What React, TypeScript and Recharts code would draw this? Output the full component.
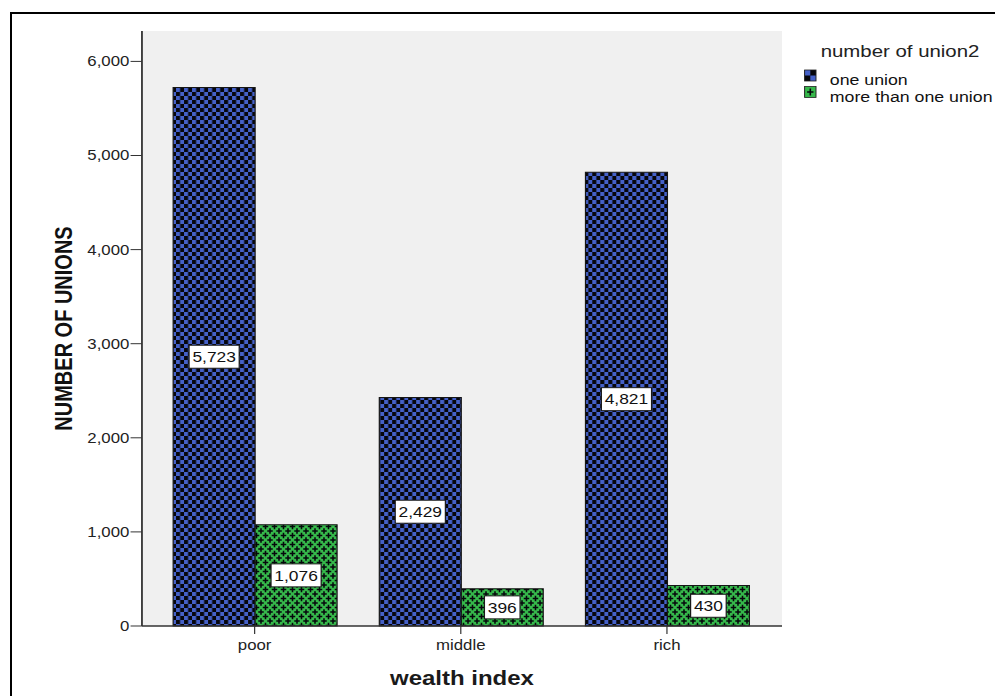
import React from 'react';
import { BarChart, Bar, XAxis, YAxis, CartesianGrid, LabelList } from 'recharts';

const wealthGroups = ['poor', 'middle', 'rich'];
const oneUnion = [5723, 2429, 4821];
const moreThanOneUnion = [1076, 396, 430];
const yTicks = [0, 1000, 2000, 3000, 4000, 5000, 6000];
const seriesNames = ['one union', 'more than one union'];

const chartData = wealthGroups.map((group, i) => ({
    group,
    one: oneUnion[i],
    more: moreThanOneUnion[i]
}));

// everything is drawn wide (text, patterns), so the chart is laid out narrow and widened along x
const STRETCH = 1.2;
const CHART_W = 995 / STRETCH;
const CHART_H = 696;
const FONT = '"Liberation Sans", Arial, sans-serif';

const BLUE = '#4561c8';
const GREEN = '#36b84b';
const INK = '#06060c';

const fmt = (v: number) => Number(v).toLocaleString('en-US');

// white value box in the middle of each bar
const ValueBox = (props: any) => {
    const box = props.viewBox && props.viewBox.width !== undefined ? props.viewBox : props;
    const { x, y, width, height } = box;
    const text = fmt(props.value);
    const fs = 14.5;
    const w = text.split('').reduce((s: number, c: string) => s + (c === ',' ? 0.278 : 0.556) * fs, 0) + 5.5;
    const cx = x + width / 2;
    const cy = y + height / 2;
    return (
        <g>
            <rect x={cx - w / 2} y={cy - 11.5} width={w} height={23} fill="#ffffff" stroke="#1a1a1a" strokeWidth={1} />
            <text x={cx} y={cy} dy="0.36em" textAnchor="middle" fontSize={fs} fontFamily={FONT} fill="#111">{text}</text>
        </g>
    );
};

const plus = (cx: number, cy: number) =>
    `M${cx - 2.3},${cy - 0.8}h4.6v1.6h-4.6z M${cx - 0.65},${cy - 2.8}h1.3v5.6h-1.3z`;

const Legendbox: React.FC = () => (
    <svg width={170} height={80} style={{ position: 'absolute', left: 660, top: 30, overflow: 'visible' }}>
        <text x={23.9} y={26.7} fontSize={17} fontFamily={FONT} fill="#222">number of union2</text>
        <g>
            <rect x={10.5} y={40} width={9.5} height={11} fill={INK} />
            <rect x={10.5} y={40} width={4.75} height={5.5} fill={BLUE} />
            <rect x={15.25} y={45.5} width={4.75} height={5.5} fill={BLUE} />
            <rect x={10.5} y={40} width={9.5} height={11} fill="none" stroke="#222" strokeWidth={0.8} />
            <text x={31.5} y={55} fontSize={14.8} fontFamily={FONT} fill="#111">{seriesNames[0]}</text>
        </g>
        <g>
            <rect x={10.5} y={56.5} width={9.5} height={11} fill={GREEN} stroke="#222" strokeWidth={0.8} />
            <path d="M12.6,61.3h5.3v1.4h-5.3z M14.6,58.5h1.3v7h-1.3z" fill={INK} />
            <text x={31.5} y={71.7} fontSize={14.8} fontFamily={FONT} fill="#111">{seriesNames[1]}</text>
        </g>
    </svg>
);

const App: React.FC = () => {
    return (
        <div style={{ position: 'absolute', left: 0, top: 0, width: 995, height: 696, overflow: 'hidden', background: '#fff', fontFamily: FONT }}>
            <div style={{ position: 'absolute', left: 10, top: 12, width: 1000, height: 720, border: '2px solid #000' }} />
            <div style={{ position: 'absolute', left: 0, top: 0, width: CHART_W, height: CHART_H, transform: `scaleX(${STRETCH})`, transformOrigin: '0 0' }}>
                <BarChart
                    width={CHART_W}
                    height={CHART_H}
                    data={chartData}
                    margin={{ top: 31, right: CHART_W - 651.7, bottom: 0, left: 0 }}
                    barGap={0}
                    style={{ fontFamily: FONT }}
                >
                    <defs>
                        <pattern id="checkBlue" patternUnits="userSpaceOnUse" width={6.67} height={8}>
                            <rect width={6.67} height={8} fill={INK} />
                            <rect width={3.335} height={4} fill={BLUE} />
                            <rect x={3.335} y={4} width={3.335} height={4} fill={BLUE} />
                        </pattern>
                        <pattern id="plusGreen" patternUnits="userSpaceOnUse" width={7.5} height={9}>
                            <rect width={7.5} height={9} fill={GREEN} />
                            <path d={[plus(3.75, 4.5), plus(0, 0), plus(7.5, 0), plus(0, 9), plus(7.5, 9)].join(' ')} fill={INK} />
                        </pattern>
                    </defs>
                    <CartesianGrid horizontal={false} vertical={false} fill="#f0f0f0" />
                    <XAxis
                        dataKey="group"
                        height={70}
                        padding={{ left: 8, right: 10 }}
                        tickSize={8}
                        tickMargin={6}
                        tick={{ fill: '#222', fontSize: 14, fontFamily: FONT }}
                        tickLine={{ stroke: '#333' }}
                        axisLine={{ stroke: '#333', strokeWidth: 1.5 }}
                        label={{ value: 'wealth index', position: 'insideBottom', offset: 11, fill: '#1a1a1a', fontSize: 20, fontWeight: 700, fontFamily: FONT }}
                    />
                    <XAxis xAxisId="top" orientation="top" dataKey="group" height={0} tick={false} tickLine={false} axisLine={{ stroke: '#444', strokeWidth: 1.5 }} />
                    <YAxis
                        width={118.3}
                        domain={[0, 6323]}
                        ticks={yTicks}
                        tickFormatter={fmt}
                        tickSize={9.5}
                        tickMargin={1}
                        tick={{ fill: '#222', fontSize: 14, fontFamily: FONT }}
                        tickLine={{ stroke: '#333' }}
                        axisLine={{ stroke: '#333', strokeWidth: 1.5 }}
                        label={{ value: 'NUMBER OF UNIONS', angle: -90, position: 'insideLeft', offset: 53, fill: '#111', fontSize: 20, fontWeight: 700, fontFamily: FONT, style: { textAnchor: 'middle' } }}
                    />
                    <YAxis yAxisId="right" orientation="right" width={0} tick={false} tickLine={false} axisLine={{ stroke: '#8a8a8a', strokeWidth: 1.5 }} />
                    <Bar dataKey="one" name={seriesNames[0]} fill="url(#checkBlue)" stroke="#161616" strokeWidth={1} barSize={68.3} isAnimationActive={false}>
                        <LabelList dataKey="one" content={ValueBox} />
                    </Bar>
                    <Bar dataKey="more" name={seriesNames[1]} fill="url(#plusGreen)" stroke="#161616" strokeWidth={1} barSize={68.3} isAnimationActive={false}>
                        <LabelList dataKey="more" content={ValueBox} />
                    </Bar>
                </BarChart>
                <Legendbox />
            </div>
        </div>
    );
};

export default App;
